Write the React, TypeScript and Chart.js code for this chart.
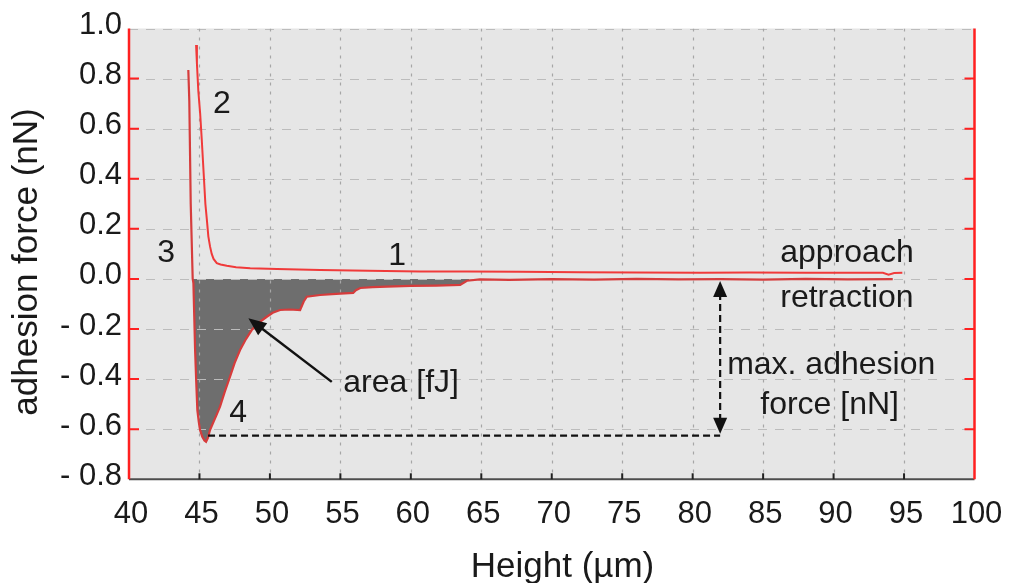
import React, { useEffect, useRef } from "react";
import { Chart, registerables } from "chart.js";

Chart.register(...registerables);

// ---- data (Height in µm, force in nN) ----
const approachX = [44.76, 44.82, 44.92, 45.05, 45.16, 45.3, 45.42, 45.52, 45.63, 45.75, 45.87, 46.0, 46.23, 46.5, 46.94, 47.6, 48.6, 50.5, 53.57, 57.0, 60.67, 64.0, 67.77, 72.0, 76.0, 80.55, 84.0, 88.0, 91.5, 93.5, 93.9, 94.3, 94.88];
const approachY = [0.934, 0.86, 0.75, 0.66, 0.56, 0.42, 0.3, 0.24, 0.17, 0.13, 0.1, 0.08, 0.063, 0.058, 0.053, 0.047, 0.043, 0.04, 0.036, 0.033, 0.03, 0.03, 0.029, 0.027, 0.026, 0.025, 0.026, 0.025, 0.025, 0.025, 0.017, 0.024, 0.025];

const retractionX = [44.21, 44.28, 44.38, 44.52, 44.57, 44.63, 44.69, 44.77, 44.85, 44.95, 45.04, 45.2, 45.35, 45.47, 45.6, 45.75, 46.0, 46.2, 46.46, 46.8, 47.17, 47.5, 47.88, 48.3, 48.71, 49.2, 49.78, 50.2, 50.72, 51.4, 52.14, 52.4, 52.62, 53.57, 54.7, 55.91, 56.1, 56.41, 57.3, 58.3, 60.0, 61.8, 63.5, 63.98, 64.9, 67.0, 70.0, 73.0, 76.0, 79.0, 82.0, 85.0, 88.0, 91.0, 94.2];
const retractionY = [0.834, 0.71, 0.3, 0.0, -0.016, -0.15, -0.284, -0.41, -0.524, -0.57, -0.603, -0.63, -0.645, -0.65, -0.635, -0.603, -0.57, -0.545, -0.51, -0.45, -0.39, -0.335, -0.284, -0.24, -0.204, -0.175, -0.151, -0.135, -0.124, -0.122, -0.124, -0.09, -0.071, -0.064, -0.06, -0.056, -0.045, -0.036, -0.033, -0.031, -0.028, -0.027, -0.024, -0.007, -0.002, -0.004, -0.001, -0.003, 0.0, -0.002, -0.001, -0.003, 0.0, -0.002, -0.001];

// adhesion work region (shaded) spans these heights
const areaStart = 44.52;
const areaEnd = 64.9;

const xTicks = { min: 40, max: 100, step: 5 };
const yTicks = { min: -0.8, max: 1.0, step: 0.2 };

const xTitle = "Height (µm)";
const yTitle = "adhesion force (nN)";

// annotation labels placed in data coordinates
const labelTexts = ["1", "2", "3", "4", "approach", "retraction", "max. adhesion", "force [nN]", "area [fJ]"];
const labelX = [59.02, 46.6, 42.63, 47.74, 90.95, 90.95, 89.83, 89.72, 59.31];
const labelY = [0.056, 0.663, 0.067, -0.571, 0.069, -0.111, -0.38, -0.54, -0.45];

const maxAdhesion = -0.626;
const maxAdhesionFromX = 45.61;
const arrowX = 81.95;
const areaArrowTail = [54.39, -0.411];
const areaArrowHead = [48.47, -0.157];

const FONT = "'Liberation Sans', Arial, sans-serif";
const TEXT = "#1a1a1a";

function arrowHead(ctx: CanvasRenderingContext2D, x1: number, y1: number, x2: number, y2: number, len: number, w: number) {
  const a = Math.atan2(y2 - y1, x2 - x1);
  ctx.beginPath();
  ctx.moveTo(x2, y2);
  ctx.lineTo(x2 - len * Math.cos(a) + (w / 2) * Math.sin(a), y2 - len * Math.sin(a) - (w / 2) * Math.cos(a));
  ctx.lineTo(x2 - len * Math.cos(a) - (w / 2) * Math.sin(a), y2 - len * Math.sin(a) + (w / 2) * Math.cos(a));
  ctx.closePath();
  ctx.fill();
}

function drawGrid(chart: any) {
  const { ctx, chartArea: a, scales } = chart;
  ctx.save();
  ctx.beginPath();
  ctx.rect(a.left, a.top, a.right - a.left, a.bottom - a.top);
  ctx.clip();
  ctx.lineWidth = 1.2;
  ctx.strokeStyle = "#bcbcbc";
  ctx.setLineDash([9, 8]);
  scales.y.ticks.forEach((t: any) => {
    const y = Math.round(scales.y.getPixelForValue(t.value)) + 0.5;
    if (y > a.bottom - 2) return;
    ctx.beginPath();
    ctx.moveTo(a.left, y);
    ctx.lineTo(a.right, y);
    ctx.stroke();
  });
  ctx.strokeStyle = "#a6a6a6";
  ctx.setLineDash([3, 6]);
  scales.x.ticks.forEach((t: any) => {
    const x = Math.round(scales.x.getPixelForValue(t.value)) + 0.5;
    if (x < a.left + 2 || x > a.right - 2) return;
    ctx.beginPath();
    ctx.moveTo(x, a.top);
    ctx.lineTo(x, a.bottom);
    ctx.stroke();
  });
  ctx.restore();
}

let gridDone = false;

const decor = {
  id: "decor",
  beforeDraw(chart: any) {
    gridDone = false;
    const { ctx, chartArea: a } = chart;
    ctx.save();
    ctx.fillStyle = "#e6e6e6";
    ctx.fillRect(a.left, a.top, a.right - a.left, a.bottom - a.top);
    ctx.restore();
  },
  beforeDatasetDraw(chart: any, args: any) {
    const idx = args && args.meta ? args.meta.index : args && args.index;
    const ds = chart.data.datasets[idx];
    if (!gridDone && ds && ds.label === "retraction") {
      drawGrid(chart);
      gridDone = true;
    }
  },
  afterDatasetsDraw(chart: any) {
    if (!gridDone) {
      drawGrid(chart);
      gridDone = true;
    }
  },
  afterDraw(chart: any) {
    const { ctx, chartArea: a, scales } = chart;
    const sx = scales.x, sy = scales.y;
    ctx.save();
    // bottom axis
    ctx.strokeStyle = "#4d4d4d";
    ctx.lineWidth = 2;
    ctx.beginPath();
    ctx.moveTo(a.left, a.bottom);
    ctx.lineTo(a.right, a.bottom);
    ctx.stroke();
    ctx.strokeStyle = "#222";
    sx.ticks.forEach((t: any) => {
      const x = sx.getPixelForValue(t.value);
      if (x < a.left + 2 || x > a.right - 2) return;
      ctx.beginPath();
      ctx.moveTo(x, a.bottom);
      ctx.lineTo(x, a.bottom - 6);
      ctx.stroke();
    });
    // red side axes
    ctx.strokeStyle = "#ff2020";
    ctx.lineWidth = 2.5;
    ctx.beginPath();
    ctx.moveTo(a.left, a.top);
    ctx.lineTo(a.left, a.bottom);
    ctx.moveTo(a.right, a.top);
    ctx.lineTo(a.right, a.bottom);
    ctx.stroke();
    ctx.lineWidth = 2;
    sy.ticks.forEach((t: any) => {
      const y = sy.getPixelForValue(t.value);
      if (y > a.bottom - 2 || y < a.top + 2) return;
      ctx.beginPath();
      ctx.moveTo(a.left, y);
      ctx.lineTo(a.left + 10, y);
      ctx.moveTo(a.right, y);
      ctx.lineTo(a.right - 10, y);
      ctx.stroke();
    });

    // max adhesion dashed guides
    ctx.strokeStyle = "#111";
    ctx.fillStyle = "#111";
    ctx.lineWidth = 2.2;
    ctx.setLineDash([7, 4]);
    const yMax = sy.getPixelForValue(maxAdhesion);
    const xA = sx.getPixelForValue(arrowX);
    const y0 = sy.getPixelForValue(0);
    ctx.beginPath();
    ctx.moveTo(sx.getPixelForValue(maxAdhesionFromX), yMax);
    ctx.lineTo(xA, yMax);
    ctx.moveTo(xA, y0 + 14);
    ctx.lineTo(xA, yMax - 14);
    ctx.stroke();
    ctx.setLineDash([]);
    arrowHead(ctx, xA, y0 + 20, xA, y0 + 2, 16, 14);
    arrowHead(ctx, xA, yMax - 20, xA, yMax - 2, 16, 14);

    // area arrow
    const tx = sx.getPixelForValue(areaArrowTail[0]);
    const ty = sy.getPixelForValue(areaArrowTail[1]);
    const hx = sx.getPixelForValue(areaArrowHead[0]);
    const hy = sy.getPixelForValue(areaArrowHead[1]);
    ctx.lineWidth = 2.5;
    const ang = Math.atan2(hy - ty, hx - tx);
    ctx.beginPath();
    ctx.moveTo(tx, ty);
    ctx.lineTo(hx - 12 * Math.cos(ang), hy - 12 * Math.sin(ang));
    ctx.stroke();
    arrowHead(ctx, tx, ty, hx, hy, 18, 15);

    // labels
    ctx.fillStyle = TEXT;
    ctx.font = `32px ${FONT}`;
    ctx.textAlign = "center";
    ctx.textBaseline = "alphabetic";
    labelTexts.forEach((s, i) => {
      ctx.fillText(s, sx.getPixelForValue(labelX[i]), sy.getPixelForValue(labelY[i]));
    });

    // axis titles
    ctx.font = `35px ${FONT}`;
    ctx.fillText(xTitle, 562.5, 576.5);
    ctx.translate(36.5, 262);
    ctx.rotate(-Math.PI / 2);
    ctx.fillText(yTitle, 0, 0);
    ctx.restore();
  },
};

export default function App() {
  const ref = useRef<HTMLCanvasElement | null>(null);
  useEffect(() => {
    if (!ref.current) return;
    const approach = approachX.map((x, i) => ({ x, y: approachY[i] }));
    const retraction = retractionX.map((x, i) => ({ x, y: retractionY[i] }));
    const area = retraction.filter((p) => p.x >= areaStart && p.x <= areaEnd && p.y <= 0);
    const chart = new Chart(ref.current, {
      type: "line",
      data: {
        datasets: [
          { label: "approach", data: approach, borderColor: "#f03a3a", borderWidth: 2, pointRadius: 0, fill: false, order: 1 },
          { label: "retraction", data: retraction, borderColor: "#d63c3c", borderWidth: 2.2, pointRadius: 0, fill: false, order: 2 },
          { label: "area", data: area, borderWidth: 0, borderColor: "rgba(0,0,0,0)", backgroundColor: "#6e6e6e", pointRadius: 0, fill: "origin", order: 3 },
        ],
      },
      options: {
        animation: false,
        responsive: false,
        maintainAspectRatio: false,
        events: [],
        layout: { padding: { left: 0, top: 28.5, right: 41.5, bottom: 0 } },
        plugins: { legend: { display: false }, tooltip: { enabled: false } },
        scales: {
          x: {
            type: "linear",
            min: xTicks.min,
            max: xTicks.max,
            ticks: { stepSize: xTicks.step, color: TEXT, font: { family: FONT, size: 31, lineHeight: 1.5 }, padding: 12, labelOffset: 2, maxRotation: 0, autoSkip: false },
            grid: { display: false, drawTicks: false },
            border: { display: false },
            afterFit: (s: any) => { s.height = 103.7; },
          },
          y: {
            type: "linear",
            min: yTicks.min,
            max: yTicks.max,
            ticks: {
              stepSize: yTicks.step,
              color: TEXT,
              font: { family: FONT, size: 31 },
              padding: 7,
              labelOffset: -3,
              autoSkip: false,
              callback: (v: any) => {
                const n = Number(v);
                if (Math.abs(n) < 1e-9) return "0.0";
                return n < 0 ? "- " + Math.abs(n).toFixed(1) : n.toFixed(1);
              },
            },
            grid: { display: false, drawTicks: false },
            border: { display: false },
            afterFit: (s: any) => { s.width = 129; },
          },
        },
      },
      plugins: [decor],
    } as any);
    return () => chart.destroy();
  }, []);
  return (
    <div style={{ position: "absolute", left: 0, top: 0, width: 1016, height: 583, background: "#fff" }}>
      <canvas ref={ref} width={1016} height={583} style={{ display: "block" }} />
    </div>
  );
}
